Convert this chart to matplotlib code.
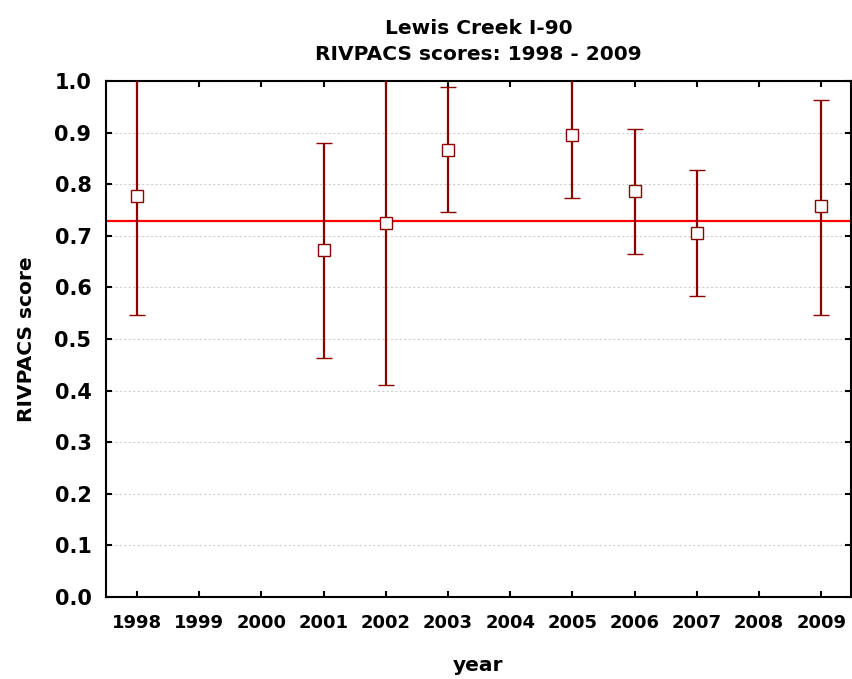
import matplotlib
matplotlib.use("Agg")
import matplotlib.pyplot as plt
import numpy as np

years = [1998, 2001, 2002, 2003, 2005, 2006, 2007, 2009]
means = [0.778, 0.673, 0.725, 0.867, 0.896, 0.786, 0.705, 0.758]
lower = [0.547, 0.463, 0.411, 0.746, 0.774, 0.665, 0.584, 0.547]
upper = [1.009, 0.880, 1.039, 0.988, 1.018, 0.907, 0.827, 0.964]
ref_line = 0.729
xtick_years = list(range(1998, 2010))
yticks = [0.0, 0.1, 0.2, 0.3, 0.4, 0.5, 0.6, 0.7, 0.8, 0.9, 1.0]

plt.rcParams['font.family'] = ['DejaVu Sans']
plt.rcParams['font.weight'] = 'bold'

fig = plt.figure(figsize=(8.52, 6.79), dpi=100)
ax = fig.add_axes([0.1244, 0.1208, 0.8744, 0.7599])

m = np.array(means)
yerr = np.vstack([m - np.array(lower), np.array(upper) - m])

dark = '#8b0000'
ax.axhline(ref_line, color='#ff0000', lw=1.6, zorder=2)
ax.errorbar(years, means, yerr=yerr, fmt='s', color=dark, ecolor=dark,
            elinewidth=1.6, capsize=5.5, capthick=1.8,
            markersize=8.8, markerfacecolor='white', markeredgecolor=dark,
            markeredgewidth=1.0, zorder=3)

ax.set_xlim(1997.5, 2009.48)
ax.set_ylim(0.0, 1.0)
ax.set_xticks(xtick_years)
ax.set_xticklabels([str(y) for y in xtick_years], fontsize=13, fontweight='bold')
ax.set_yticks(yticks)
ax.set_yticklabels([f"{v:.1f}" for v in yticks], fontsize=15, fontweight='bold')

ax.yaxis.grid(True, color='#cfcfcf', linestyle=(0, (2, 2)), lw=0.8)
ax.set_axisbelow(True)

ax.tick_params(direction='in', top=True, right=True, length=4, width=1.5, color='black')
ax.tick_params(axis='x', pad=12.5)
ax.tick_params(axis='y', pad=10.5)
for s in ax.spines.values():
    s.set_linewidth(1.5)
    s.set_color('black')

ax.set_xlabel('year', fontsize=14.5, fontweight='bold', labelpad=17)
ax.set_ylabel('RIVPACS score', fontsize=14.5, fontweight='bold', labelpad=13)
ax.set_title('Lewis Creek I-90\nRIVPACS scores: 1998 - 2009', fontsize=14.5,
             fontweight='bold', pad=15, linespacing=1.45)

fig.savefig('out.png', dpi=100)
